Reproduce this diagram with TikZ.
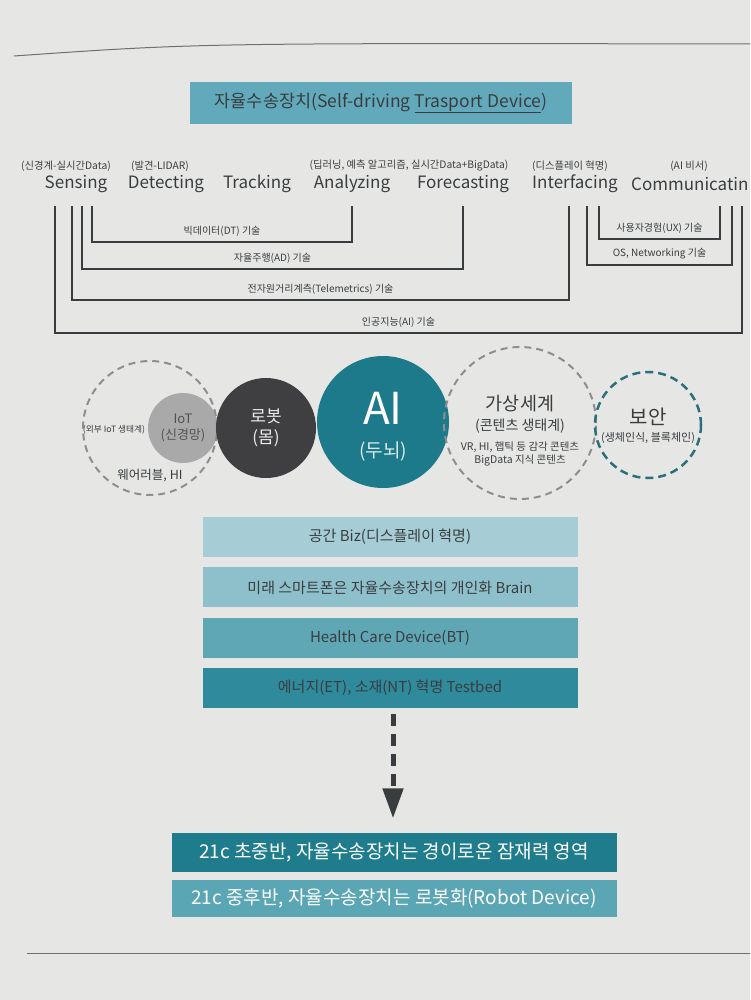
\documentclass[tikz,border=0pt]{standalone}
\usepackage{fontspec}
\setmainfont{Noto Sans CJK KR}
\usetikzlibrary{positioning,arrows.meta}
\definecolor{paper}{HTML}{E6E7E5}
\definecolor{ink}{HTML}{3A3D40}
\definecolor{rulegray}{HTML}{6E6F70}
\definecolor{boxteal}{HTML}{62AABB}
\definecolor{bar1}{HTML}{A6CDD5}
\definecolor{bar2}{HTML}{8EC0CB}
\definecolor{bar3}{HTML}{5FA7B5}
\definecolor{bar4}{HTML}{2F8A9B}
\definecolor{bar5}{HTML}{1E7C8C}
\definecolor{bar6}{HTML}{5AA6B5}
\definecolor{iotgray}{HTML}{A9A9A9}
\definecolor{robotgray}{HTML}{3F3F41}
\definecolor{aiteal}{HTML}{1D7A8B}
\definecolor{dashgray}{HTML}{8E8E8E}
\definecolor{dashteal}{HTML}{2B6E7C}
\newcommand\fs[1]{\fontsize{#1}{#1}\selectfont}
\tikzset{
  stage/.style={font=\fs{17}, text=ink, inner sep=0},
  note/.style={font=\fs{10.3}, text=ink, inner sep=0},
  tech/.style={font=\fs{10}, text=ink, inner sep=0},
  bracket/.style={draw=ink, line width=1.1pt},
  bar/.style={minimum width=375pt, minimum height=40pt, inner sep=0, font=\fs{15}, text=ink},
  widebar/.style={minimum width=445pt, minimum height=39pt, inner sep=0, font=\fs{19}, text=white},
  ring/.style={circle, draw=dashgray, line width=2pt, dash pattern=on 7pt off 5pt, inner sep=0},
  disc/.style={circle, inner sep=0, align=center},
  flow/.style={draw=ink, line width=5pt, dash pattern=on 12pt off 8pt,
    -{Triangle[width=20pt,length=30pt]}}
}
\begin{document}
\begin{tikzpicture}[x=1pt,y=-1pt]
  % page
  \useasboundingbox (0,0) rectangle (750,1000);
  \fill[paper] (0,0) rectangle (750,1000);
  \draw[rulegray, line width=1pt] (14,56) .. controls (200,43) .. (750,44);
  \draw[rulegray, line width=1pt] (27,953) -- (750,953);
  % title
  \node[fill=boxteal, minimum width=382pt, minimum height=42pt, inner sep=0,
    font=\fs{17.5}, text=ink] (title) at (381,103)
    {자율수송장치(Self-driving \underline{Trasport Device})};
  % stages
  \node[stage] (sensing) at (76,184) {Sensing};
  \node[stage] (detecting) at (166,184) {Detecting};
  \node[stage] (tracking) at (257,184) {Tracking};
  \node[stage] (analyzing) at (352,184) {Analyzing};
  \node[stage] (forecasting) at (463,184) {Forecasting};
  \node[stage] (interfacing) at (575,184) {Interfacing};
  \node[stage, anchor=west] (communicating) at (631,184) {Communicatin};
  \node[note] (sensing-n) at (66,166) {(신경계-실시간Data)};
  \node[note] (detecting-n) at (160,166) {(발견-LIDAR)};
  \node[note] (analyzing-n) at (409,166) {(딥러닝, 예측 알고리즘, 실시간Data+BigData)};
  \node[note] (interfacing-n) at (570,166) {(디스플레이 혁명)};
  \node[note] (communicating-n) at (689,166) {(AI 비서)};
  % technology brackets
  \foreach \nm/\xl/\xr/\yb/\txt in {
      dt/92/352/242/빅데이터(DT) 기술,
      ad/82/463/269/자율주행(AD) 기술,
      tm/72/569/300/전자원거리계측(Telemetrics) 기술,
      ai/55/742/333/인공지능(AI) 기술,
      ux/599/720/239/사용자경험(UX) 기술,
      os/587/732/265/{OS, Networking 기술}}{
    \coordinate (\nm-l) at (\xl,206);
    \coordinate (\nm-r) at (\xr,206);
    \coordinate (\nm-b) at ({(\xl+\xr)/2},\yb);
    \draw[bracket] (\nm-l) |- (\nm-b) -| (\nm-r);
    \node[tech] (\nm-t) at ([yshift=11pt]\nm-b) {\txt};
  }
  % circles
  \node[disc, fill=iotgray, minimum size=70pt, font=\fs{13}, text=ink!80!iotgray] (iot) at (183,428)
    {IoT\\[3pt](신경망)};
  \node[ring, minimum size=134pt] (wearable) at (150,428) {};
  \node[font=\fs{8.7}, text=ink, inner sep=0] (iot-eco) at (114,430) {(외부 IoT 생태계)};
  \node[font=\fs{12.5}, text=ink, inner sep=0] (wearable-t) at (150,476) {웨어러블, HI};
  \node[disc, fill=robotgray, minimum size=100pt, font=\fs{17}, text=white!85!gray] (robot) at (266,428)
    {로봇\\[4pt](몸)};
  \node[disc, fill=aiteal, minimum size=132pt] (ai) at (383,422) {};
  \node[font=\fs{44}, text=white, inner sep=0] (ai-t) at (383,408) {AI};
  \node[font=\fs{19}, text=white!85!aiteal, inner sep=0] (ai-s) at (383,452) {(두뇌)};
  \node[ring, minimum size=152pt] (virtual) at (520,423) {};
  \node[font=\fs{18.5}, text=ink, inner sep=0] (virtual-t) at (520,404) {가상세계};
  \node[font=\fs{14}, text=ink, inner sep=0] (virtual-s) at (520,426) {(콘텐츠 생태계)};
  \node[font=\fs{10.5}, text=ink, inner sep=0, align=center] (virtual-c) at (520,454)
    {VR, HI, 햅틱 등 감각 콘텐츠\\[1pt]BigData 지식 콘텐츠};
  \node[ring, draw=dashteal, line width=2.5pt, dash pattern=on 8pt off 5pt, minimum size=106pt]
    (security) at (648,425) {};
  \node[font=\fs{20}, text=ink, inner sep=0] (security-t) at (648,417) {보안};
  \node[font=\fs{11}, text=ink, inner sep=0] (security-s) at (648,438) {(생체인식, 블록체인)};
  % application bars
  \node[bar, fill=bar1] (biz) at (390,537) {공간 Biz(디스플레이 혁명)};
  \node[bar, fill=bar2, below=10pt of biz] (phone) {미래 스마트폰은 자율수송장치의 개인화 Brain};
  \node[bar, fill=bar3, below=10pt of phone] (health) {Health Care Device(BT)};
  \node[bar, fill=bar4, below=10pt of health] (energy) {에너지(ET), 소재(NT) 혁명 Testbed};
  % outlook
  \node[widebar, fill=bar5] (early) at (394,852) {21c 초중반, 자율수송장치는 경이로운 잠재력 영역};
  \node[widebar, fill=bar6, minimum height=37pt, below=8pt of early] (late)
    {21c 중후반, 자율수송장치는 로봇화(Robot Device)};
  \draw[flow, shorten <=6pt, shorten >=14pt] ([xshift=3pt]energy.south) -- ([xshift=3pt]energy.south |- early.north);
\end{tikzpicture}
\end{document}
